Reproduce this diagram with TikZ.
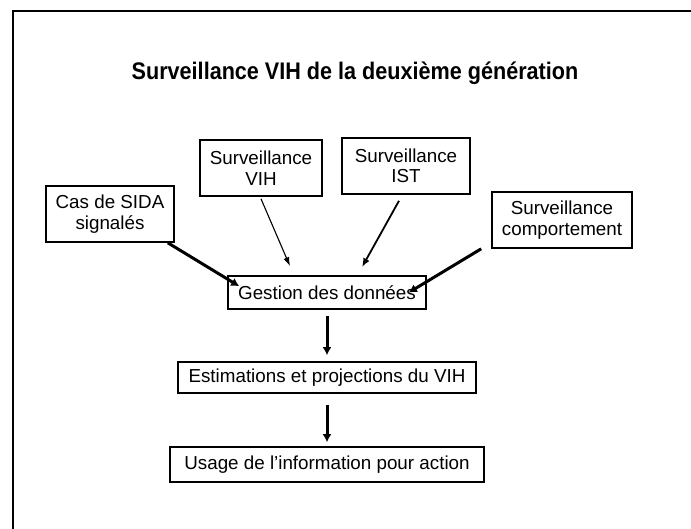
\documentclass[tikz,border=0pt]{standalone}
\usepackage{fontspec}
\setmainfont{Liberation Sans}
\newfontfamily\titlefont[FakeStretch=0.9]{Liberation Sans}
\usetikzlibrary{arrows.meta}

\tikzset{
  box/.style={draw=black, line width=1.6pt, inner sep=0pt, align=center,
    font=\fontsize{18.8}{20.5}\selectfont},
  thinarrow/.style={-{Latex[length=9pt,width=6pt]}, line width=1.1pt},
  midarrow/.style={-{Latex[length=9pt,width=7pt]}, line width=1.8pt},
  thickarrow/.style={-{Latex[length=8pt,width=9pt]}, line width=3pt},
}

\begin{document}
\begin{tikzpicture}[x=1pt,y=-1pt]
    \useasboundingbox (0,0) rectangle (691,529);
    \draw[line width=2.5pt] (13,529) -- (13,11) -- (691,11);

    \node (title) at (355,73) {\titlefont\bfseries\fontsize{24}{28}\selectfont Surveillance VIH de la deuxième génération};

    \node[box, minimum width=128pt, minimum height=56pt] (sida) at (110,214) {Cas de SIDA\\signalés};
    \node[box, minimum width=122pt, minimum height=56pt] (vih) at (261,168) {Surveillance\\VIH};
    \node[box, minimum width=128pt, minimum height=56pt] (ist) at (406,166) {Surveillance\\IST};
    \node[box, minimum width=140pt, minimum height=56pt] (comp) at (562,220) {Surveillance\\comportement};
    \node[box, minimum width=198pt, minimum height=33pt] (gestion) at (327,292.5) {Gestion des données};
    \node[box, minimum width=298pt, minimum height=31pt] (estim) at (327,377.5) {Estimations et projections du VIH};
    \node[box, minimum width=314pt, minimum height=35pt] (usage) at (327,464.5) {Usage de l’information pour action};

    \draw[thickarrow] ([xshift=-7pt]sida.south east) -- ([xshift=12pt,yshift=-11pt]gestion.north west);
    \draw[thinarrow] ([yshift=-2pt]vih.south) -- ([xshift=-37pt,yshift=9pt]gestion.north);
    \draw[midarrow] ([xshift=-7pt,yshift=-6pt]ist.south) -- ([xshift=35pt,yshift=8pt]gestion.north);
    \draw[thickarrow] ([xshift=-10pt]comp.south west) -- ([xshift=-18pt]gestion.east);
    \draw[thickarrow] ([yshift=-6pt]gestion.south) -- ([yshift=6pt]estim.north);
    \draw[thickarrow] ([yshift=-11pt]estim.south) -- ([yshift=4pt]usage.north);
  \end{tikzpicture}
\end{document}
